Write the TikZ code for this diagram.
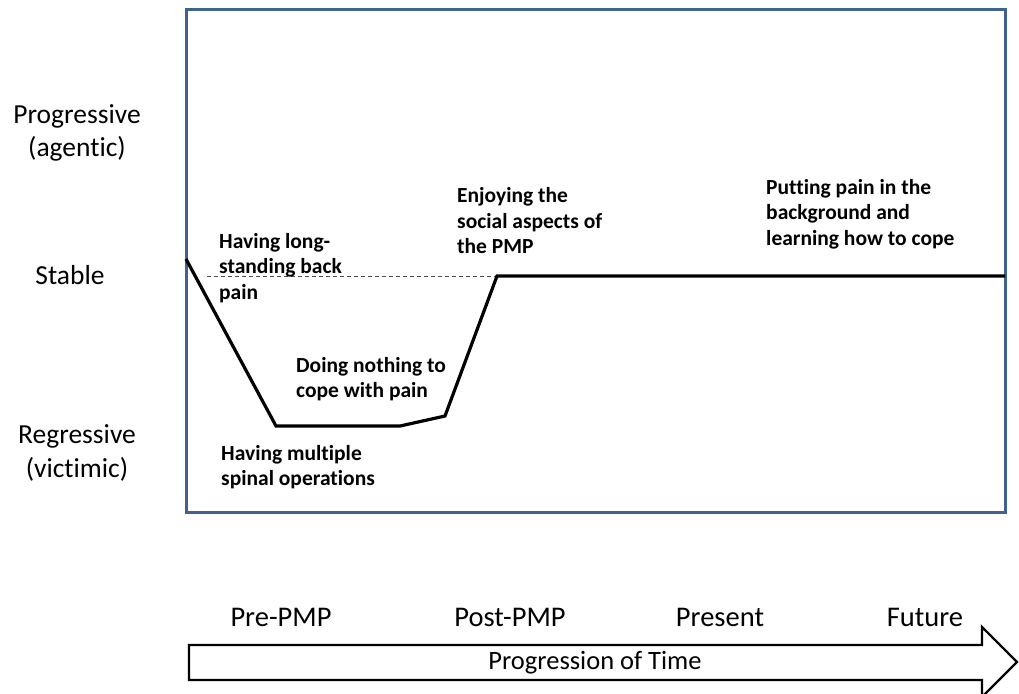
\documentclass[tikz,border=0pt]{standalone}
\usepackage{fontspec}
\setmainfont{Carlito}[Ligatures=NoCommon]
\begin{document}
\begin{tikzpicture}[x=1pt,y=-1pt,
  axislabel/.style={font=\fontsize{27.5}{33.5}\selectfont, align=center, inner sep=0pt},
  periodlabel/.style={font=\fontsize{28.5}{34}\selectfont, inner sep=0pt},
  eventlabel/.style={font=\fontsize{21.5}{25.5}\selectfont\bfseries, align=left, inner sep=0pt, anchor=west},
  frame/.style={draw={rgb,255:red,64;green,98;blue,145}, line width=3pt},
  trajectory/.style={draw=black, line width=3.2pt, line join=miter},
  baseline/.style={draw=black!70, line width=0.9pt, dash pattern=on 4pt off 3pt},
  timearrow/.style={draw=black, line width=2.4pt, fill=white, line join=miter}]
\useasboundingbox (0,0) rectangle (1019,693);

% plot frame
\draw[frame] (186,10) rectangle (1005,512);

% vertical scale
\node[axislabel] (prog) at (77,133) {Progressive\\(agentic)};
\node[axislabel] (stab) at (70,275) {Stable};
\node[axislabel] (regr) at (77,453) {Regressive\\(victimic)};

% reference level for "stable"
\coordinate (d0) at (207,276);
\coordinate (d1) at (497,276);
\draw[baseline] (d0) -- (d1);

% narrative trajectory
\coordinate (p0) at (186,259);
\coordinate (p1) at (276,426);
\coordinate (p2) at (400,426);
\coordinate (p3) at (445,416);
\coordinate (p4) at (497,276);
\coordinate (p5) at (1005,276);
\draw[trajectory] (p0) -- (p1) -- (p2) -- (p3) -- (p4) -- (p5);

% events
\node[eventlabel] (e1) at (219,268) {Having long-\\standing back\\pain};
\node[eventlabel] (e2) at (221,467) {Having multiple\\spinal operations};
\node[eventlabel] (e3) at (296,379) {Doing nothing to\\cope with pain};
\node[eventlabel] (e4) at (457,221) {Enjoying the\\social aspects of\\the PMP};
\node[eventlabel] (e5) at (766,214) {Putting pain in the\\background and\\learning how to cope};

% time periods
\node[periodlabel] (t1) at (281,617) {Pre-PMP};
\node[periodlabel] (t2) at (510,617) {Post-PMP};
\node[periodlabel] (t3) at (720,617) {Present};
\node[periodlabel] (t4) at (925,617) {Future};

% time arrow
\draw[timearrow] (189,645) -- (982,645) -- (982,627) -- (1017,662) -- (982,697) -- (982,680) -- (189,680) -- cycle;
\node[font=\fontsize{26.5}{32}\selectfont, inner sep=0pt] (arr) at (595,663) {Progression of Time};
\end{tikzpicture}
\end{document}
